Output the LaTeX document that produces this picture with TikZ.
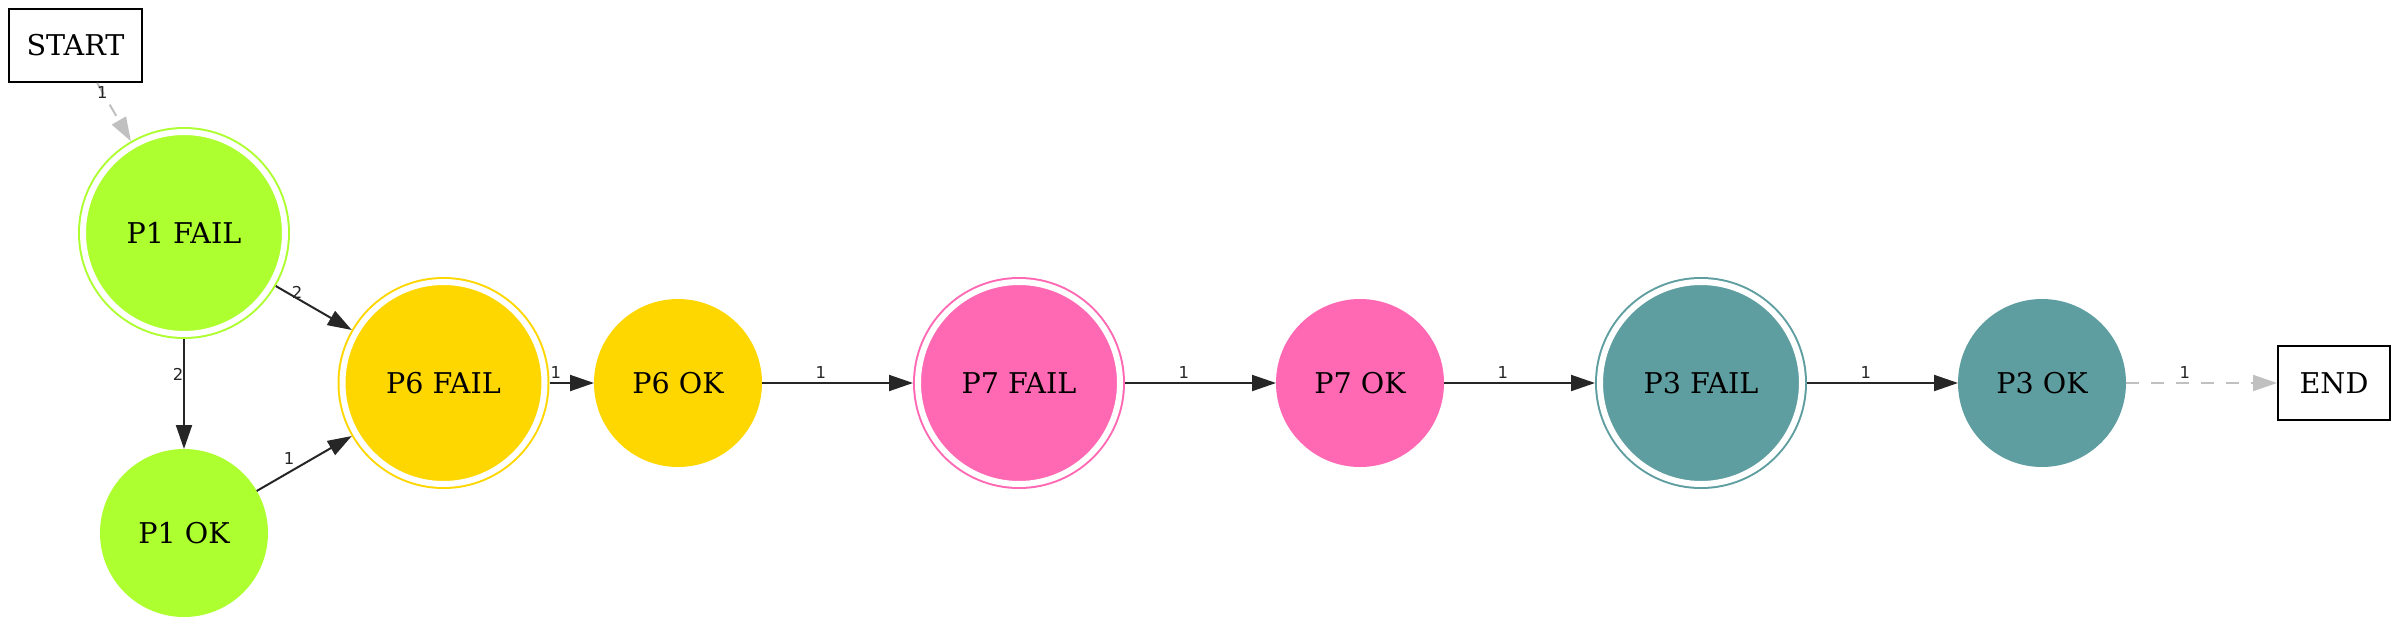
\documentclass[tikz,border=0pt]{standalone}
\usepackage{fontspec}
\setmainfont{DejaVu Serif}
\newfontfamily\labelfont{DejaVu Sans}
\usepackage{tikz}
\usetikzlibrary{positioning, arrows.meta}

\definecolor{pgreen}{HTML}{ADFF2F}
\definecolor{pgold}{HTML}{FFD700}
\definecolor{ppink}{HTML}{FF69B4}
\definecolor{pteal}{HTML}{5F9EA0}
\definecolor{edgedark}{HTML}{262626}
\definecolor{edgelight}{HTML}{C0C0C0}

\begin{document}
\begin{tikzpicture}[node distance=75.5pt,
  failnode/.style={circle, draw=#1, fill=#1, line width=1pt, double=white, double distance=3pt,
    minimum size=101pt, inner sep=0pt, outer sep=2.5pt, font=\fontsize{14.3}{17}\selectfont},
  oknode/.style={circle, draw=none, fill=#1, minimum size=84pt, inner sep=0pt, outer sep=0pt,
    font=\fontsize{14.3}{17}\selectfont},
  termbox/.style={draw=black, line width=1pt, inner sep=0pt, font=\fontsize{14.3}{17}\selectfont},
  edge/.style={draw=edgedark, line width=1pt, -{Triangle[length=12pt, width=8pt]}},
  faint/.style={draw=edgelight, line width=1pt, dash pattern=on 6.5pt off 6pt, -{Triangle[length=12pt, width=8pt]}},
  elabel/.style={font=\labelfont\fontsize{8.2}{9}\selectfont, text=edgedark, inner sep=0pt, yshift=5pt}]

\useasboundingbox (0,0) rectangle (1200pt,-313.5pt);

% Start box and the P1 pair (left column)
\node[termbox, minimum width=66.5pt, minimum height=36.5pt] (start) at (37.75pt,-22.75pt) {START};
\node[failnode=pgreen] (p1fail) at (92pt,-116.5pt) {P1 FAIL};
\node[oknode=pgreen] (p1ok) at (92pt,-266.5pt) {P1 OK};

% P6 pair
\node[failnode=pgold] (p6fail) at (221.75pt,-191.5pt) {P6 FAIL};
\node[oknode=pgold, right=22.25pt of p6fail] (p6ok) {P6 OK};

% P7 pair
\node[failnode=ppink, right=of p6ok] (p7fail) {P7 FAIL};
\node[oknode=ppink, right=of p7fail] (p7ok) {P7 OK};

% P3 pair
\node[failnode=pteal, right=of p7ok] (p3fail) {P3 FAIL};
\node[oknode=pteal, right=of p3fail] (p3ok) {P3 OK};

% End box
\node[termbox, minimum width=56pt, minimum height=37pt, right=of p3ok] (end) {END};

% Connectors
\draw[faint] (start) -- node[elabel, pos=.155, yshift=-5pt] {1} (p1fail);
\draw[edge] (p1fail) -- node[elabel, pos=.28, yshift=-2pt] {2} (p6fail);
\draw[edge] (p1fail) -- node[elabel, pos=.32, xshift=-3pt, yshift=-5pt] {2} (p1ok);
\draw[edge] (p1ok) -- node[elabel, pos=.34, yshift=1.75pt] {1} (p6fail);
\draw[edge] (p6fail) -- node[elabel, pos=.14] {1} (p6ok);
\draw[edge] (p6ok) -- node[elabel, pos=.39] {1} (p7fail);
\draw[edge] (p7fail) -- node[elabel, pos=.39] {1} (p7ok);
\draw[edge] (p7ok) -- node[elabel, pos=.39] {1} (p3fail);
\draw[edge] (p3fail) -- node[elabel, pos=.39] {1} (p3ok);
\draw[faint] (p3ok) -- node[elabel, pos=.39] {1} (end);

\end{tikzpicture}
\end{document}
